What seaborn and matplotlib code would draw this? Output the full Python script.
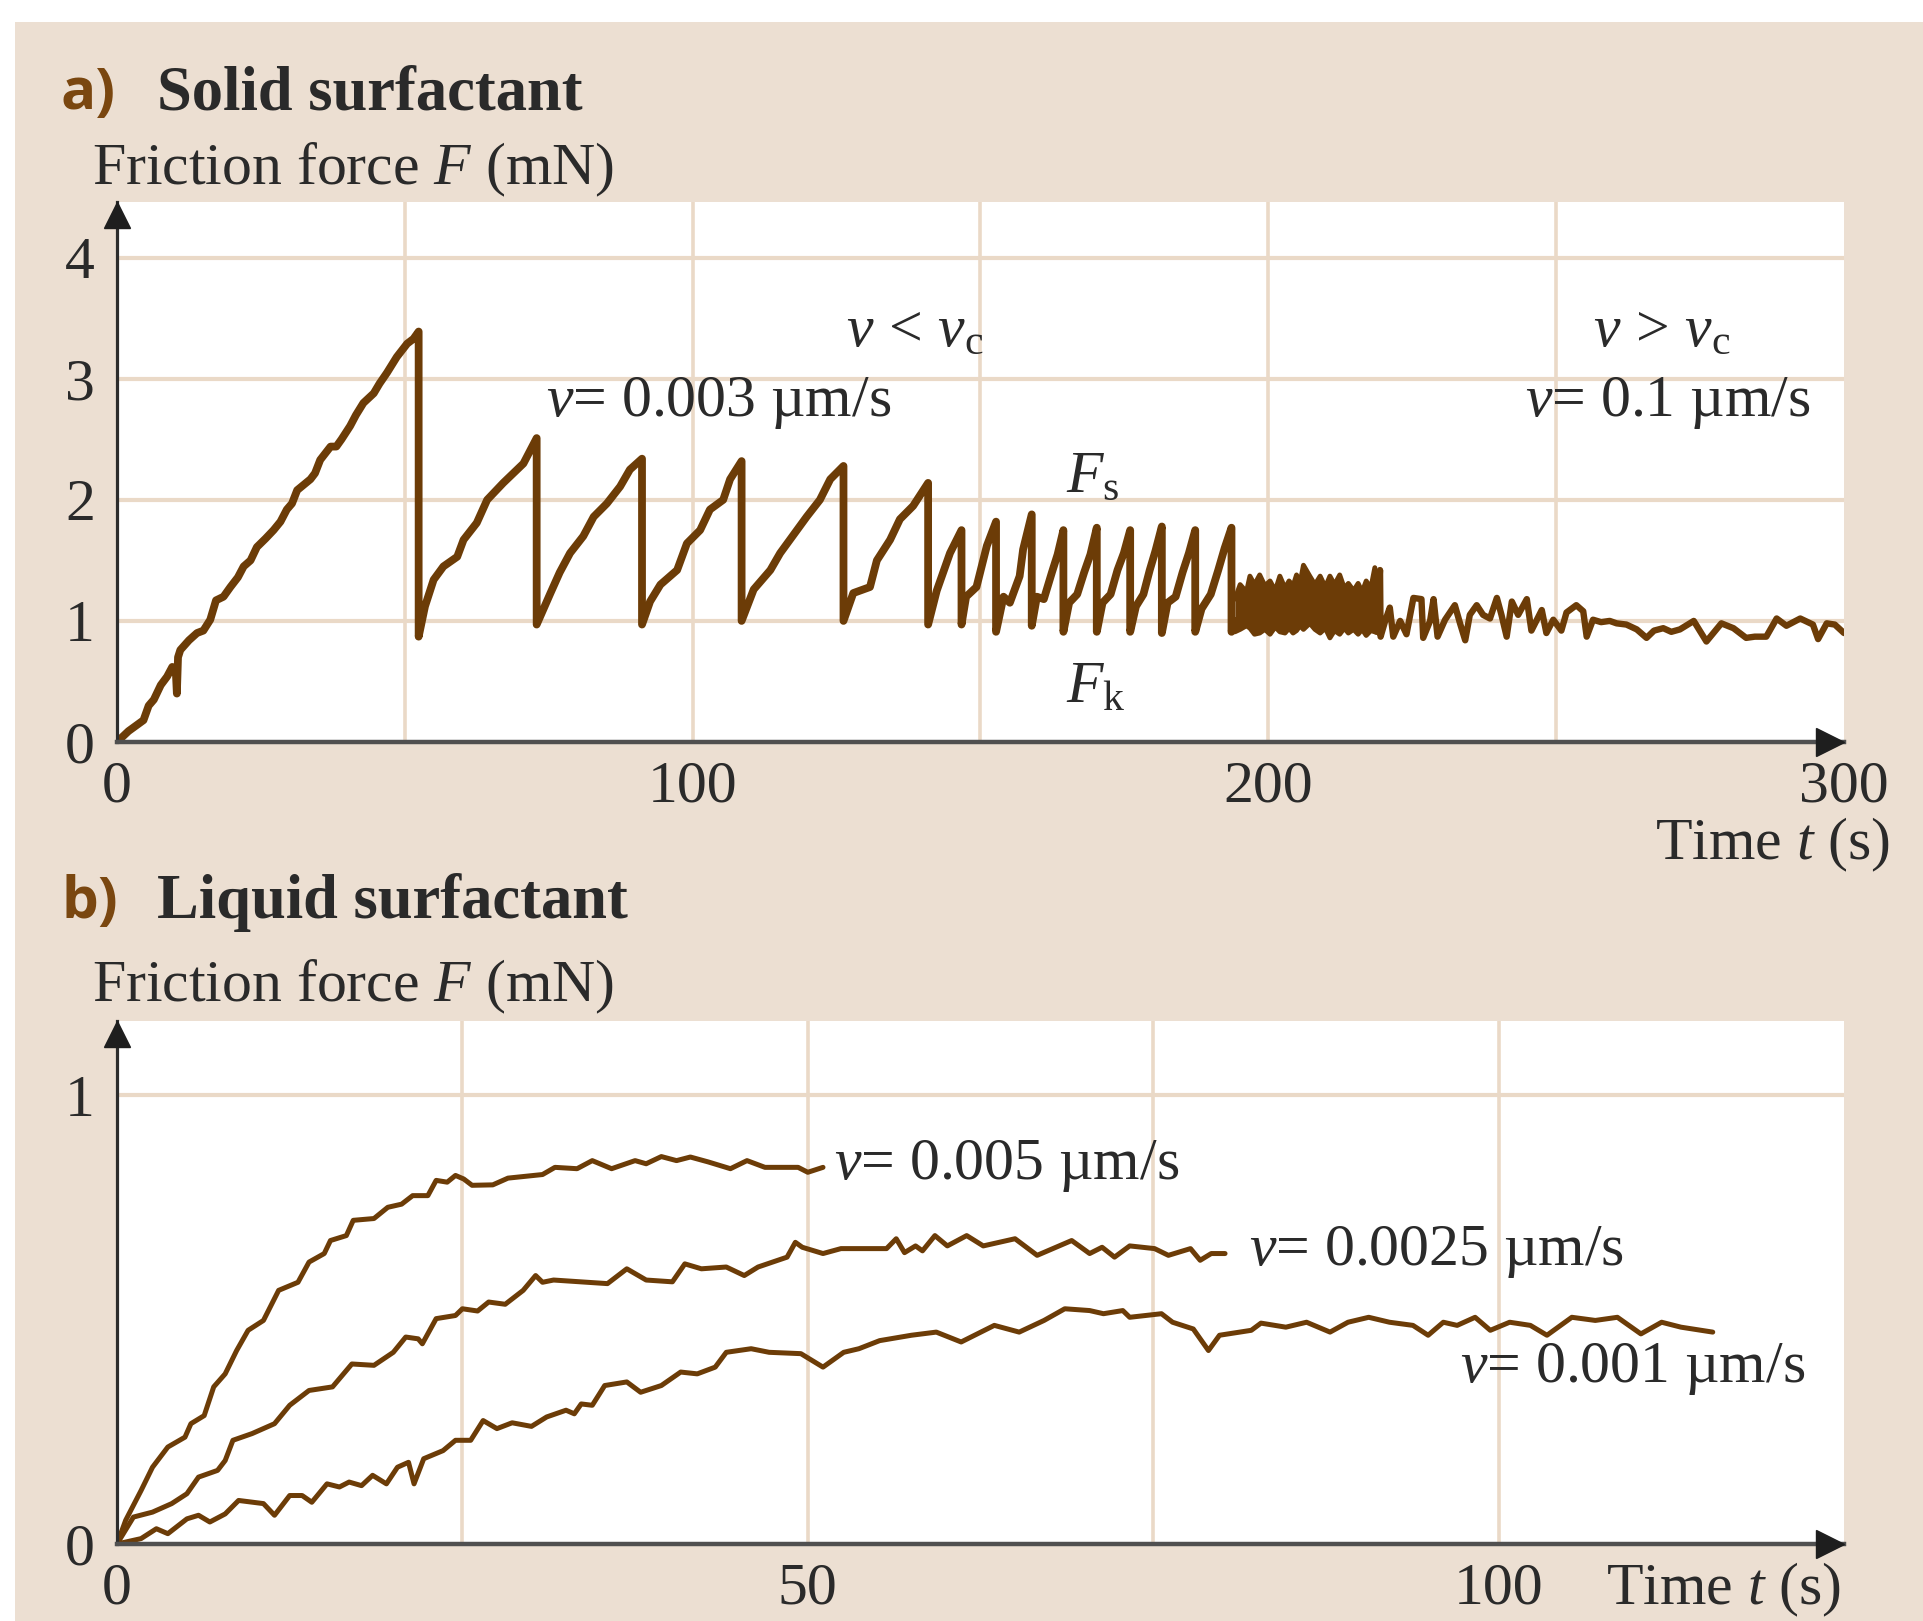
import matplotlib
matplotlib.use('Agg')
import matplotlib.pyplot as plt
import matplotlib.transforms as mtransforms
from matplotlib.patches import Rectangle
import seaborn as sns
import pandas as pd

# ---------------- data: panel a (solid surfactant) ----------------
stick_t = [0, 2.0, 4.6, 5.5, 6.4, 7.6, 8.7, 9.6, 10.2, 10.4, 10.6, 11.0, 12.5, 13.9, 15.0, 16.2, 17.2,
           18.5, 19.7, 21.0, 22.0, 23.2, 24.3, 25.8, 27.2, 28.4, 29.5, 30.4, 31.3, 33.6, 34.4, 35.3,
           37.1, 38.1, 39.0, 40.5, 41.5, 42.8, 44.6, 45.6, 46.9, 48.6, 50.4, 51.5, 52.4,
           52.4, 53.5, 55.0, 56.7, 59.1, 60.2, 62.5, 64.3, 67.1, 70.6, 72.9,
           72.9, 75.3, 76.9, 78.7, 81.0, 82.8, 85.1, 87.4, 89.1, 91.2,
           91.2, 92.6, 94.4, 97.3, 99.0, 101.3, 103.0, 105.3, 106.5, 108.5,
           108.5, 110.6, 113.5, 115.2, 118.1, 119.8, 122.1, 123.9, 126.2,
           126.2, 127.9, 130.8, 132.0, 134.3, 136.0, 138.3, 140.9,
           140.9, 142.4, 144.7, 146.7,
           146.7, 147.5, 149.3, 151.1, 152.7,
           152.7, 154.0, 155.1, 156.8, 157.4, 158.9,
           158.9, 159.8, 161.0, 162.4, 163.4, 164.4,
           164.4, 165.4, 166.8, 168.0, 169.1, 170.2,
           170.2, 171.2, 172.6, 173.8, 174.9, 176.0,
           176.0, 177.0, 178.3, 179.4, 180.4, 181.5,
           181.5, 182.5, 183.9, 185.1, 186.2, 187.3,
           187.3, 188.4, 190.0, 191.3, 192.4, 193.6,
           193.6, 194.2]
stick_F = [0, 0.09, 0.18, 0.30, 0.35, 0.47, 0.54, 0.62, 0.60, 0.40, 0.70, 0.76, 0.84, 0.90, 0.92, 1.01, 1.17,
           1.20, 1.28, 1.36, 1.45, 1.50, 1.61, 1.68, 1.75, 1.82, 1.92, 1.97, 2.08, 2.17, 2.22, 2.33,
           2.44, 2.44, 2.50, 2.61, 2.70, 2.80, 2.88, 2.96, 3.05, 3.18, 3.29, 3.33, 3.39,
           0.87, 1.12, 1.34, 1.45, 1.53, 1.67, 1.81, 2.00, 2.14, 2.30, 2.51,
           0.97, 1.23, 1.40, 1.56, 1.70, 1.86, 1.97, 2.11, 2.25, 2.34,
           0.97, 1.16, 1.30, 1.42, 1.64, 1.75, 1.92, 2.00, 2.17, 2.32,
           1.00, 1.26, 1.42, 1.56, 1.75, 1.86, 2.00, 2.17, 2.28,
           1.00, 1.23, 1.28, 1.50, 1.67, 1.84, 1.95, 2.14,
           0.97, 1.25, 1.56, 1.75,
           0.97, 1.20, 1.28, 1.62, 1.82,
           0.91, 1.20, 1.15, 1.37, 1.59, 1.88,
           0.96, 1.20, 1.18, 1.40, 1.55, 1.75,
           0.91, 1.15, 1.22, 1.40, 1.55, 1.77,
           0.91, 1.15, 1.22, 1.42, 1.56, 1.75,
           0.91, 1.12, 1.22, 1.42, 1.58, 1.78,
           0.90, 1.15, 1.20, 1.40, 1.56, 1.75,
           0.91, 1.10, 1.22, 1.42, 1.60, 1.77,
           0.91, 1.00]

band_t = [194.2, 195.1, 196.2, 196.8, 197.6, 198.5, 199.4, 200.3, 201.2, 202.0, 202.9, 203.6, 204.3,
          204.9, 205.5, 206.1, 207.2, 208.1, 209.0, 209.9, 210.7, 211.5, 212.4, 213.2, 213.9, 214.8,
          215.6, 216.3, 217.0, 217.8, 218.5, 218.8]
band_upper = [1.18, 1.30, 1.24, 1.37, 1.30, 1.38, 1.29, 1.33, 1.25, 1.37, 1.27, 1.33, 1.29,
              1.38, 1.31, 1.46, 1.37, 1.30, 1.37, 1.28, 1.37, 1.30, 1.38, 1.27, 1.31, 1.25,
              1.31, 1.24, 1.33, 1.27, 1.44, 1.29]
band_lower = [0.91, 0.93, 0.96, 0.94, 0.89, 0.90, 0.93, 0.89, 0.95, 0.91, 0.90, 0.94, 0.90,
              0.92, 0.96, 0.93, 0.98, 0.93, 0.90, 0.94, 0.86, 0.92, 0.89, 0.94, 0.90, 0.93,
              0.89, 0.93, 0.88, 0.92, 0.91, 0.91]

tail_t = [218.8, 219.4, 219.5, 220.3, 221.1, 221.7, 222.9, 224.0, 225.2, 226.6, 226.9, 228.1, 228.7,
          229.4, 230.7, 232.4, 233.3, 234.2, 235.0, 236.2, 237.3, 238.5, 239.7, 240.5, 241.4, 242.3,
          243.4, 244.9, 245.7, 247.5, 248.3, 249.5, 250.9, 251.8, 253.5, 254.7, 255.3, 256.4, 257.8,
          259.3, 260.5, 262.2, 264.0, 265.7, 267.0, 268.6, 270.0, 271.5, 273.9, 276.1, 278.7, 280.8,
          283.0, 284.5, 286.5, 288.3, 290.0, 292.4, 294.6, 295.5, 297.0, 298.4, 300.0]
tail_F = [0.91, 1.42, 0.87, 1.00, 1.11, 0.87, 1.00, 0.89, 1.19, 1.18, 0.86, 1.00, 1.18,
          0.87, 1.01, 1.13, 0.98, 0.84, 1.05, 1.13, 1.05, 1.02, 1.19, 1.05, 0.87, 1.16,
          1.05, 1.18, 0.92, 1.09, 0.90, 1.01, 0.92, 1.07, 1.13, 1.08, 0.87, 1.01, 0.99,
          1.00, 0.98, 0.97, 0.93, 0.86, 0.92, 0.94, 0.91, 0.93, 1.00, 0.83, 0.98, 0.94,
          0.86, 0.87, 0.87, 1.02, 0.96, 1.02, 0.97, 0.85, 0.98, 0.97, 0.90]

a_xticks = [0, 50, 100, 150, 200, 250, 300]
a_xticklabels = ['0', '', '100', '', '200', '', '300']
a_yticks = [0, 1, 2, 3, 4]
a_yticklabels = ['0', '1', '2', '3', '4']

# ---------------- data: panel b (liquid surfactant) ----------------
v005_t = [0, 0.63, 1.74, 2.57, 3.68, 4.92, 5.35, 6.31, 7.0, 7.83, 8.66, 9.49, 10.6, 11.7, 13.1, 13.9,
          15.0, 15.45, 16.6, 17.1, 18.6, 19.6, 20.6, 21.4, 22.5, 23.1, 23.9, 24.5, 25.1, 25.7, 27.2,
          28.3, 30.8, 31.7, 33.3, 34.4, 35.8, 37.5, 38.3, 39.4, 40.5, 41.5, 42.8, 44.4, 45.6, 46.9,
          49.3, 50.0, 51.1]
v005_F = [0, 0.053, 0.119, 0.171, 0.216, 0.238, 0.268, 0.286, 0.35, 0.379, 0.431, 0.476, 0.498, 0.565,
          0.583, 0.628, 0.647, 0.676, 0.687, 0.721, 0.725, 0.75, 0.757, 0.776, 0.776, 0.81, 0.806,
          0.821, 0.813, 0.799, 0.80, 0.815, 0.823, 0.839, 0.836, 0.854, 0.836, 0.854, 0.847, 0.863,
          0.854, 0.862, 0.851, 0.836, 0.854, 0.839, 0.839, 0.828, 0.839]

v0025_t = [0, 1.19, 2.57, 3.96, 5.06, 5.9, 7.28, 7.83, 8.39, 9.78, 11.4, 12.5, 13.9, 15.6, 17.0, 18.6,
           20.0, 20.9, 21.8, 22.1, 23.1, 24.5, 25.0, 26.1, 26.9, 28.1, 29.4, 30.3, 30.8, 31.6, 35.5,
           36.9, 38.3, 40.2, 41.1, 42.3, 44.1, 45.4, 46.4, 48.5, 49.1, 49.6, 51.1, 52.4, 55.7, 56.4,
           57.0, 57.8, 58.3, 59.2, 60.1, 61.5, 62.7, 65.0, 66.6, 69.1, 70.4, 71.3, 72.2, 73.3, 75.1,
           76.1, 77.7, 78.4, 79.2, 80.2]
v0025_F = [0, 0.06, 0.071, 0.09, 0.112, 0.149, 0.164, 0.186, 0.231, 0.246, 0.268, 0.309, 0.342, 0.350,
           0.401, 0.398, 0.427, 0.461, 0.457, 0.446, 0.502, 0.509, 0.524, 0.519, 0.539, 0.534, 0.565,
           0.598, 0.583, 0.588, 0.580, 0.613, 0.588, 0.584, 0.624, 0.613, 0.617, 0.598, 0.617, 0.639,
           0.672, 0.661, 0.647, 0.658, 0.658, 0.680, 0.649, 0.664, 0.653, 0.687, 0.664, 0.687, 0.664,
           0.680, 0.643, 0.676, 0.647, 0.661, 0.639, 0.664, 0.658, 0.643, 0.658, 0.632, 0.647, 0.647]

v001_t = [0, 1.74, 2.85, 3.68, 5.06, 5.9, 6.72, 7.83, 8.8, 10.6, 11.4, 12.5, 13.4, 14.1, 15.2, 16.1,
          16.8, 17.7, 18.5, 19.5, 20.3, 21.1, 21.5, 22.2, 23.6, 24.5, 25.6, 26.5, 27.5, 28.6, 30.0,
          31.1, 32.5, 33.1, 33.6, 34.4, 35.3, 36.9, 37.9, 39.4, 40.8, 42.0, 43.3, 44.1, 45.9, 47.2,
          49.5, 51.1, 52.6, 53.7, 55.2, 57.5, 59.3, 61.1, 63.5, 65.3, 67.1, 68.6, 70.4, 71.4, 72.8,
          73.3, 75.6, 76.4, 77.9, 79.0, 79.8, 82.1, 82.8, 84.6, 86.1, 87.8, 89.1, 90.6, 92.1, 93.8,
          94.9, 96.0, 97.0, 98.3, 99.4, 100.8, 102.3, 103.5, 105.3, 107.0, 108.6, 110.3, 111.8,
          113.2, 115.5]
v001_F = [0, 0.012, 0.034, 0.023, 0.056, 0.064, 0.049, 0.067, 0.097, 0.090, 0.064, 0.108, 0.108,
          0.093, 0.134, 0.127, 0.138, 0.130, 0.153, 0.134, 0.171, 0.182, 0.134, 0.19, 0.208, 0.231,
          0.231, 0.275, 0.257, 0.27, 0.262, 0.283, 0.298, 0.29, 0.312, 0.309, 0.353, 0.361, 0.338,
          0.353, 0.383, 0.379, 0.394, 0.427, 0.435, 0.427, 0.424, 0.394, 0.427, 0.435, 0.453, 0.465,
          0.472, 0.450, 0.487, 0.472, 0.498, 0.524, 0.520, 0.513, 0.52, 0.505, 0.513, 0.494, 0.479,
          0.431, 0.465, 0.476, 0.492, 0.483, 0.494, 0.472, 0.494, 0.505, 0.494, 0.487, 0.465, 0.494,
          0.487, 0.505, 0.476, 0.494, 0.487, 0.465, 0.505, 0.498, 0.505, 0.468, 0.494, 0.483, 0.472]

b_xticks = [0, 25, 50, 75, 100]
b_xticklabels = ['0', '', '50', '', '100']
b_yticks = [0, 1]
b_yticklabels = ['0', '1']

# ---------------- style ----------------
BEIGE = '#ecdfd2'
GRID = '#ead9c7'
BROWN = '#6c3c07'
LABEL_BROWN = '#7a4710'
TXT = '#2a2a2a'
FS = 43

sns.set_theme(style='white')
plt.rcParams['font.family'] = ['Liberation Serif', 'DejaVu Serif']
plt.rcParams['mathtext.fontset'] = 'custom'
plt.rcParams['mathtext.rm'] = 'Liberation Serif'
plt.rcParams['mathtext.it'] = 'Liberation Serif:italic'
plt.rcParams['mathtext.bf'] = 'Liberation Serif:bold'

W, H = 1924, 1621
fig = plt.figure(figsize=(W / 100, H / 100), dpi=100, facecolor='white')
fig.patches.append(Rectangle((15 / W, 0), 1 - 15 / W, 1 - 22 / H, transform=fig.transFigure,
                             facecolor=BEIGE, edgecolor='none', zorder=-10))


def fx(x):
    return x / W


def fy(y):
    return 1 - y / H


axA = fig.add_axes([fx(117), fy(742), (1844 - 117) / W, (742 - 202) / H])
axB = fig.add_axes([fx(117), fy(1544), (1844 - 117) / W, (1544 - 1021) / H])


def style(ax, xlim, ylim, xt, xtl, yt, ytl, vgrid, hgrid):
    ax.set_facecolor('white')
    ax.set_xlim(*xlim)
    ax.set_ylim(*ylim)
    ax.set_xticks(xt)
    ax.set_xticklabels(xtl)
    ax.set_yticks(yt)
    ax.set_yticklabels(ytl)
    ax.tick_params(axis='both', length=0, labelsize=FS, labelcolor=TXT)
    ax.tick_params(axis='x', pad=13)
    ax.tick_params(axis='y', pad=16)
    ax.grid(False)
    for v in vgrid:
        ax.axvline(v, color=GRID, lw=2.6, zorder=0.5)
    for h in hgrid:
        ax.axhline(h, color=GRID, lw=3.0, zorder=0.5)
    for s in ['top', 'right']:
        ax.spines[s].set_visible(False)
    ax.spines['left'].set_color('#2c2c2c')
    ax.spines['left'].set_linewidth(2.3)
    ax.spines['bottom'].set_color('#505050')
    ax.spines['bottom'].set_linewidth(3.2)
    ax.spines['left'].set_zorder(6)
    ax.spines['bottom'].set_zorder(6)
    # arrow heads
    up = mtransforms.offset_copy(ax.transAxes, fig=fig, x=0, y=-13, units='dots')
    ax.plot([0], [1], transform=up, marker='^', ms=19, color='#1e1e1e', clip_on=False, zorder=7)
    rt = mtransforms.offset_copy(ax.transAxes, fig=fig, x=-14, y=0, units='dots')
    ax.plot([1], [0], transform=rt, marker='>', ms=20, color='#1e1e1e', clip_on=False, zorder=7)


style(axA, (0, 300), (0, 4.46), a_xticks, a_xticklabels, a_yticks, a_yticklabels,
      [50, 100, 150, 200, 250], [1, 2, 3, 4])
style(axB, (0, 125), (0, 1.165), b_xticks, b_xticklabels, b_yticks, b_yticklabels,
      [25, 50, 75, 100], [1])

# panel a curves
dfa = pd.DataFrame({'t': stick_t, 'F': stick_F})
sns.lineplot(data=dfa, x='t', y='F', ax=axA, sort=False, estimator=None, color=BROWN, lw=5.6,
             legend=False, zorder=3)
axA.fill_between(band_t, band_lower, band_upper, color=BROWN, lw=0, zorder=3)
sns.lineplot(x=band_t, y=band_upper, ax=axA, sort=False, estimator=None, color=BROWN, lw=3.5,
             legend=False, zorder=3)
sns.lineplot(x=band_t, y=band_lower, ax=axA, sort=False, estimator=None, color=BROWN, lw=3.5,
             legend=False, zorder=3)
dft = pd.DataFrame({'t': tail_t, 'F': tail_F})
sns.lineplot(data=dft, x='t', y='F', ax=axA, sort=False, estimator=None, color=BROWN, lw=4.6,
             legend=False, zorder=3)

# panel b curves
for tt, ff in [(v005_t, v005_F), (v0025_t, v0025_F), (v001_t, v001_F)]:
    sns.lineplot(x=tt, y=ff, ax=axB, sort=False, estimator=None, color=BROWN, lw=3.6,
                 legend=False, zorder=3)

for ax in (axA, axB):
    ax.set_xlabel('')
    ax.set_ylabel('')

# annotations panel a
axA.text(138.6, 3.39, r'$v\,<\,v_\mathrm{c}$', ha='center', va='center', fontsize=FS, color=TXT)
axA.text(74.6, 2.80, r'$v$= 0.003 µm/s', ha='left', va='center', fontsize=FS, color=TXT)
axA.text(268.4, 3.39, r'$v\,>\,v_\mathrm{c}$', ha='center', va='center', fontsize=FS, color=TXT)
axA.text(294.2, 2.80, r'$v$= 0.1 µm/s', ha='right', va='center', fontsize=FS, color=TXT)
axA.text(164.8, 2.18, r'$F_\mathrm{s}$', ha='left', va='center', fontsize=FS, color=TXT)
axA.text(164.8, 0.44, r'$F_\mathrm{k}$', ha='left', va='center', fontsize=FS, color=TXT)

# annotations panel b
axB.text(51.9, 0.842, r'$v$= 0.005 µm/s', ha='left', va='center', fontsize=FS, color=TXT)
axB.text(81.9, 0.650, r'$v$= 0.0025 µm/s', ha='left', va='center', fontsize=FS, color=TXT)
axB.text(97.2, 0.390, r'$v$= 0.001 µm/s', ha='left', va='center', fontsize=FS, color=TXT)

# titles and axis labels
fig.text(fx(61), fy(94), 'a)', fontfamily=['Open Sans', 'DejaVu Sans'], fontweight='bold',
         fontsize=42, color=LABEL_BROWN, ha='left', va='center')
fig.text(fx(157), fy(94), 'Solid surfactant', fontweight='bold', fontsize=45, color=TXT,
         ha='left', va='center')
fig.text(fx(92), fy(170), r'Friction force $F$ (mN)', fontsize=FS, color=TXT, ha='left', va='center')
fig.text(fx(1890), fy(845), r'Time $t$ (s)', fontsize=FS, color=TXT, ha='right', va='center')

fig.text(fx(61), fy(903), 'b)', fontfamily=['Open Sans', 'DejaVu Sans'], fontweight='bold',
         fontsize=42, color=LABEL_BROWN, ha='left', va='center')
fig.text(fx(157), fy(903), 'Liquid surfactant', fontweight='bold', fontsize=45, color=TXT,
         ha='left', va='center')
fig.text(fx(92), fy(987), r'Friction force $F$ (mN)', fontsize=FS, color=TXT, ha='left', va='center')
fig.text(fx(1841), fy(1590), r'Time $t$ (s)', fontsize=FS, color=TXT, ha='right', va='center')

fig.savefig('out.png', dpi=100, facecolor='white')
